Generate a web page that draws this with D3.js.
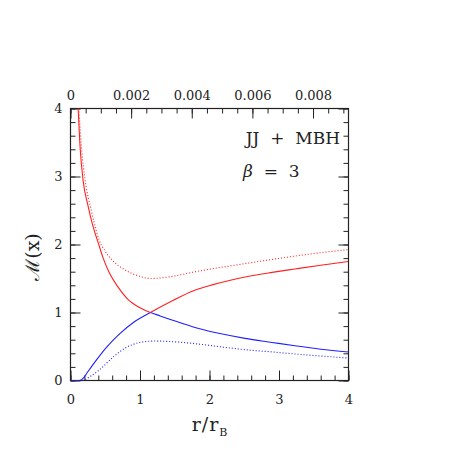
<!DOCTYPE html>
<html><head><meta charset="utf-8">
<script src="https://cdn.jsdelivr.net/npm/d3@7"></script>
<style>body{margin:0;background:#fff}svg{display:block}text{font-family:"DejaVu Serif",serif;fill:#222}</style>
</head><body><svg id="c" width="457" height="457"></svg>
<script>
// Solid curves: two smooth branches that cross at r = crossR.
// Red solid = falling branch left of the crossing, rising branch right of it; blue solid = the other way round.
const crossR=1.15;
const solidFalling=[[0.11,4.0],[0.14,3.4],[0.18,2.95],[0.25,2.58],[0.32,2.28],[0.40,2.02],[0.47,1.80],[0.56,1.58],[0.68,1.38],[0.83,1.19],[1.0,1.07],[1.15,1.0],[1.29,0.95],[1.58,0.85],[1.86,0.76],[2.15,0.69],[2.51,0.62],[2.9,0.56],[3.23,0.51],[3.6,0.46],[4.0,0.42]];
const solidRising=[[0,0],[0.13,0],[0.18,0.03],[0.23,0.1],[0.3,0.2],[0.38,0.31],[0.52,0.49],[0.71,0.69],[0.9,0.85],[1.15,1.0],[1.48,1.18],[1.77,1.32],[2.05,1.41],[2.3,1.475],[2.55,1.53],[2.9,1.59],[3.23,1.64],[3.6,1.695],[4.0,1.75]];
const redDotted=[[0.12,4.0],[0.16,3.4],[0.21,2.95],[0.3,2.5],[0.41,2.07],[0.5,1.9],[0.59,1.78],[0.78,1.63],[0.97,1.54],[1.16,1.50],[1.4,1.52],[1.7,1.58],[1.96,1.63],[2.3,1.685],[2.55,1.725],[2.9,1.78],[3.23,1.83],[3.6,1.88],[4.0,1.925]];
const blueDotted=[[0,0],[0.17,0],[0.22,0.02],[0.3,0.07],[0.42,0.16],[0.62,0.35],[0.81,0.49],[1.0,0.56],[1.2,0.58],[1.4,0.575],[1.72,0.55],[2.2,0.49],[2.55,0.45],[2.9,0.42],[3.23,0.39],[3.6,0.36],[4.0,0.33]];
const xTicks=[0,1,2,3,4];
const yTicks=[0,1,2,3,4];
const topTicks=[0,0.002,0.004,0.006,0.008];
const topTickLabels=["0","0.002","0.004","0.006","0.008"];
const topMax=0.00917;

const svg=d3.select("#c");
const L=70.5,R=348.5,T=108.5,B=380.5;
const x=d3.scaleLinear().domain([0,4]).range([L,R]);
const xt=d3.scaleLinear().domain([0,topMax]).range([L,R]);
const y=d3.scaleLinear().domain([0,4]).range([B,T]);

const defs=svg.append("defs");
defs.append("clipPath").attr("id","clip").append("rect").attr("x",L).attr("y",T).attr("width",R-L).attr("height",B-T);
defs.append("clipPath").attr("id","clipL").append("rect").attr("x",L).attr("y",T-2).attr("width",x(crossR)-L).attr("height",B-T+4);
defs.append("clipPath").attr("id","clipR").append("rect").attr("x",x(crossR)).attr("y",T-2).attr("width",R-x(crossR)).attr("height",B-T+4);

function drawAxis(axis,tx,ty){
  const g=svg.append("g").attr("transform",`translate(${tx},${ty})`).call(axis);
  g.select(".domain").remove();
  g.selectAll("line").attr("stroke","#222").attr("stroke-width",1);
  return g;
}
const minorX=d3.range(0,4.001,0.2), minorY=d3.range(0,4.001,0.2), minorTop=d3.range(0,topMax,0.0005);
drawAxis(d3.axisBottom(x).tickValues(minorX).tickSize(-5).tickFormat(""),0,B);
const gb=drawAxis(d3.axisBottom(x).tickValues(xTicks).tickSize(-10).tickPadding(14).tickFormat(d3.format("d")),0,B);
drawAxis(d3.axisTop(xt).tickValues(minorTop).tickSize(-5).tickFormat(""),0,T);
const gt=drawAxis(d3.axisTop(xt).tickValues(topTicks).tickSize(-10).tickPadding(9).tickFormat((d,i)=>topTickLabels[i]),0,T);
drawAxis(d3.axisLeft(y).tickValues(minorY).tickSize(-5).tickFormat(""),L,0);
const gl=drawAxis(d3.axisLeft(y).tickValues(yTicks).tickSize(-10).tickPadding(8).tickFormat(d3.format("d")),L,0);
drawAxis(d3.axisRight(y).tickValues(minorY).tickSize(-5).tickFormat(""),R,0);
drawAxis(d3.axisRight(y).tickValues(yTicks).tickSize(-10).tickFormat(""),R,0);
[gb,gt,gl].forEach(g=>g.selectAll("text").attr("font-size",13).attr("font-family","DejaVu Serif").attr("fill","#333"));

svg.append("rect").attr("x",L).attr("y",T).attr("width",R-L).attr("height",B-T).attr("fill","none").attr("stroke","#222").attr("stroke-width",1.2);

const line=d3.line().x(d=>x(d[0])).y(d=>y(d[1])).curve(d3.curveMonotoneX);
const plot=svg.append("g").attr("clip-path","url(#clip)");
function draw(parent,data,color,dash){
  parent.append("path").attr("d",line(data)).attr("fill","none").attr("stroke",color)
    .attr("stroke-width",1.1).attr("stroke-dasharray",dash);
}
draw(plot,redDotted,"#ff2020","1,2");
draw(plot,blueDotted,"#2020ff","1,2");
const left=plot.append("g").attr("clip-path","url(#clipL)");
const right=plot.append("g").attr("clip-path","url(#clipR)");
draw(left,solidRising,"#2020ff",null);
draw(left,solidFalling,"#ff2020",null);
draw(right,solidFalling,"#2020ff",null);
draw(right,solidRising,"#ff2020",null);

svg.append("text").attr("x",340).attr("y",144).attr("text-anchor","end").attr("font-size",17).attr("fill","#333").style("white-space","pre").text("JJ  +  MBH");
const bt=svg.append("text").attr("x",243).attr("y",177).attr("font-size",17).attr("fill","#333").style("white-space","pre");
bt.append("tspan").attr("font-style","italic").text("β");
bt.append("tspan").text("  =  3");

const xl=svg.append("text").attr("x",210).attr("y",431).attr("text-anchor","middle").attr("font-size",19).attr("fill","#333").attr("letter-spacing",1);
xl.append("tspan").text("r/r");
xl.append("tspan").attr("font-size",11).attr("dy",5).text("B");

svg.append("text").attr("transform","translate(39,257) rotate(-90)").attr("text-anchor","middle").attr("font-size",19).attr("fill","#333").text("ℳ(x)");
</script></body></html>
